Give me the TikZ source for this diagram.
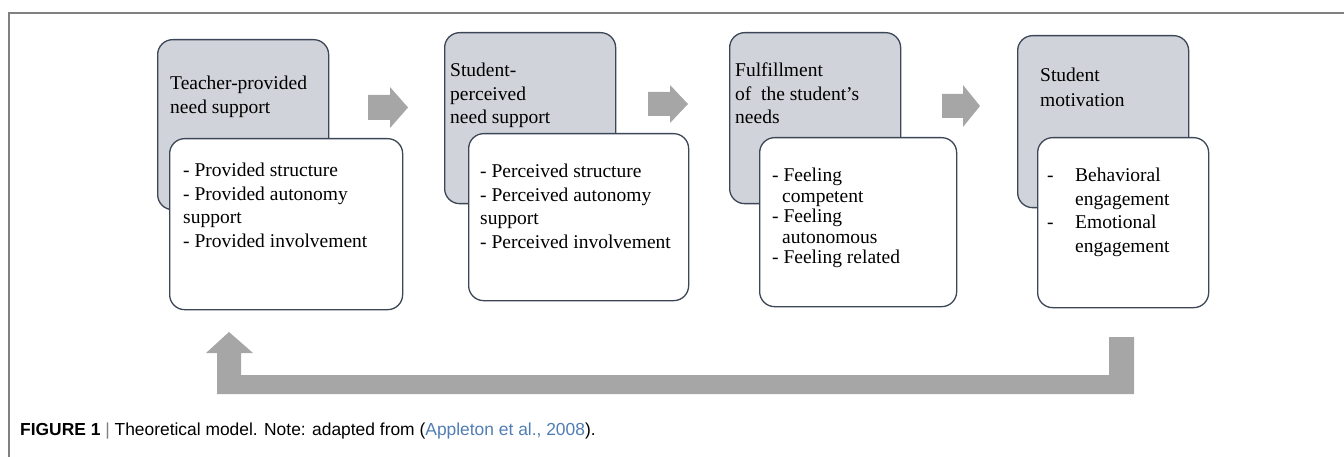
\documentclass[tikz,border=0pt]{standalone}
\usepackage{fontspec}
\setmainfont{Liberation Serif}
\newfontfamily\capfont{Liberation Sans}

\definecolor{headfill}{RGB}{208,211,217}
\definecolor{boxline}{RGB}{60,70,86}
\definecolor{flowgray}{RGB}{166,166,166}
\definecolor{framegray}{RGB}{128,128,128}
\definecolor{citeblue}{RGB}{80,125,180}

\tikzset{
	headbox/.style={draw=boxline, line width=1.3pt, fill=headfill, rounded corners=15pt, anchor=north west, inner sep=0pt},
	itembox/.style={draw=boxline, line width=1.3pt, fill=white, rounded corners=15pt, anchor=north west, inner sep=0pt},
	boxtext/.style={anchor=north west, inner sep=0pt, align=left, font=\fontsize{19.5}{23.5}\selectfont},
	flow/.style={fill=flowgray, draw=none},
}

\begin{document}
\begin{tikzpicture}[x=1pt, y=-1pt]
		\useasboundingbox (0, 0) rectangle (1344, 457);
		% frame
		\coordinate (f0) at (9, 457);
		\coordinate (f1) at (9, 13);
		\coordinate (f2) at (1344, 13);
		\draw [framegray, line width=1.5pt] (f0) to (f1) to (f2);

		% grey heads
		\node [headbox, minimum width=171pt, minimum height=170pt] (h1) at (157, 39) {};
		\node [headbox, minimum width=171pt, minimum height=171pt] (h2) at (444, 32) {};
		\node [headbox, minimum width=171pt, minimum height=171pt] (h3) at (729, 32) {};
		\node [headbox, minimum width=171pt, minimum height=172pt] (h4) at (1017, 35) {};
		\node [boxtext] (t1) at (170, 76) {Teacher-provided\\need support};
		\node [boxtext] (t2) at (450, 63) {Student-\\perceived\\need support};
		\node [boxtext] (t3) at (735, 63) {Fulfillment\\of~~the student’s\\needs};
		\node [boxtext, font=\fontsize{19.5}{25}\selectfont] (t4) at (1040, 68) {Student\\motivation};

		% white item boxes
		\node [itembox, minimum width=233pt, minimum height=171pt] (b1) at (169, 138) {};
		\node [itembox, minimum width=220pt, minimum height=167pt] (b2) at (468, 133) {};
		\node [itembox, minimum width=197pt, minimum height=169pt] (b3) at (759, 137) {};
		\node [itembox, minimum width=171pt, minimum height=170pt] (b4) at (1037, 137) {};
		\node [boxtext] (l1) at (183, 163) {- Provided structure\\- Provided autonomy\\support\\- Provided involvement};
		\node [boxtext] (l2) at (480, 164) {- Perceived structure\\- Perceived autonomy\\support\\- Perceived involvement};
		\node [boxtext, font=\fontsize{19.5}{20.5}\selectfont] (l3) at (772, 168) {- Feeling\\\hspace*{10pt}competent\\- Feeling\\\hspace*{10pt}autonomous\\- Feeling related};
		\node [boxtext] (l4) at (1047, 168) {\makebox[28pt][l]{-}Behavioral\\\hspace*{28pt}engagement\\\makebox[28pt][l]{-}Emotional\\\hspace*{28pt}engagement};

		% small arrows
		\fill [flow] (368, 95) -- (390, 95) -- (390, 87) -- (408, 107.5) -- (390, 128) -- (390, 120) -- (368, 120) -- cycle;
		\fill [flow] (648, 92) -- (670, 92) -- (670, 85) -- (688, 104) -- (670, 123) -- (670, 116) -- (648, 116) -- cycle;
		\fill [flow] (942, 94) -- (963, 94) -- (963, 85) -- (980, 106) -- (963, 127) -- (963, 118) -- (942, 118) -- cycle;

		% return arrow
		\fill [flow] (217, 394) -- (217, 353) -- (206, 353) -- (229, 332) -- (253, 353) -- (241, 353) -- (241, 375) -- (1109, 375) -- (1109, 337) -- (1134, 337) -- (1134, 394) -- cycle;

		% caption
		\node [anchor=base west, inner sep=0pt, font=\capfont\fontsize{17.4}{19}\selectfont] (cap) at (20, 435) {\textbf{FIGURE 1} {\color{framegray}|} Theoretical model. Note: adapted from ({\color{citeblue}Appleton et al., 2008}).};
\end{tikzpicture}
\end{document}
